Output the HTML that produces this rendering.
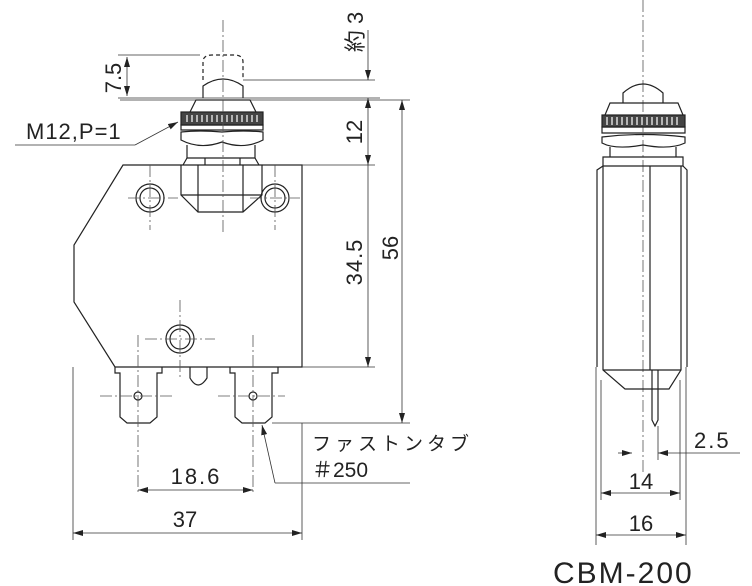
<!DOCTYPE html>
<html><head><meta charset="utf-8"><style>
html,body{margin:0;padding:0;background:#fff;}
svg{display:block;}
text{font-family:"Liberation Sans","Noto Sans CJK JP",sans-serif;fill:#222;}
</style></head><body>
<svg width="752" height="586" viewBox="0 0 752 586" xmlns="http://www.w3.org/2000/svg">
<defs>
<marker id="a" viewBox="0 0 10 6" refX="10" refY="3" markerWidth="10" markerHeight="6" orient="auto-start-reverse" markerUnits="userSpaceOnUse"><path d="M0,0 L10,3 L0,6 z" fill="#222"/></marker>
</defs>
<g stroke="#222" stroke-width="1.2" fill="none">
<path d="M203,80 L203,62 Q203,55 212,55 L234,55 Q243,55 243,62 L243,80" stroke-dasharray="4,3"/>
<path d="M203,98 L203,86 Q223,72 243,86 L243,98"/>
<path d="M190,112 L196,100 L250,100 L256,112"/>
<rect x="181" y="112" width="82" height="13" fill="#444"/>
<g stroke="#fff" stroke-width="1.2">
<path d="M187,115v7M192,115v7M197,115v7M202,115v7M207,115v7M212,115v7M217,115v7M222,115v7M227,115v7M232,115v7M237,115v7M242,115v7M247,115v7M252,115v7M257,115v7"/>
</g>
<path d="M181,125 L263,125 L263,130 L181,130 Z"/>
<path d="M181,132 Q200,130 222,132 Q244,130 263,132 L263,140 Q244,150 222,142 Q200,150 181,140 Z"/>
<path d="M187,145 L187,158 L255,158 L255,145"/>
<path d="M183,165 L187,158 M259,165 L255,158 M205,158 L205,165 M240,158 L240,165"/>
<path d="M123,165 L302,165 L302,367 L115,367 L74,302 L74,245 Z"/>
<path d="M181,165 L181,195 L198,212 L243,212 L262,195 L262,165"/>
<path d="M198,165 L198,212 M243,165 L243,212 M181,195 L262,195"/>
<circle cx="150" cy="198" r="14"/><circle cx="150" cy="198" r="10"/>
<circle cx="275" cy="198" r="14"/><circle cx="275" cy="198" r="10"/>
<circle cx="180" cy="339" r="14"/><circle cx="180" cy="339" r="10"/>
<path d="M115,367 L115,373 L120,373 L120,417 L127,423 L150,423 L157,417 L157,373 L162,373 L162,367"/>
<path d="M230,367 L230,373 L235,373 L235,417 L242,423 L265,423 L272,417 L272,373 L278,373 L278,367"/>
<circle cx="138" cy="396" r="4"/><circle cx="253" cy="396" r="4"/>
<path d="M190,367 L190,378 Q198,392 207,378 L207,367"/>
</g>
<g stroke="#555" stroke-width="0.8" fill="none" stroke-dasharray="12,3,2,3">
<path d="M223,20 L223,235"/>
<path d="M150,165 L150,230 M128,198 L178,198"/>
<path d="M275,165 L275,230 M250,198 L300,198"/>
<path d="M180,300 L180,380 M145,339 L215,339"/>
<path d="M138,335 L138,495 M100,396 L175,396"/>
<path d="M253,335 L253,495 M218,396 L285,396"/>
<path d="M643,0 L643,475"/>
</g>
<g stroke="#333" stroke-width="0.8" fill="none">
<path d="M118,55 L200,55 M118,98 L380,98 M243,80 L375,80 M263,165 L375,165 M120,100 L410,100 M302,367 L375,367 M272,423 L410,423"/>
<path d="M127,57 L127,96" marker-start="url(#a)" marker-end="url(#a)"/>
<path d="M368,30 L368,80" marker-end="url(#a)"/>
<path d="M368,98 L368,165" marker-start="url(#a)" marker-end="url(#a)"/>
<path d="M368,165 L368,367" marker-end="url(#a)"/>
<path d="M402,100 L402,423" marker-start="url(#a)" marker-end="url(#a)"/>
<path d="M15,145 L135,145"/>
<path d="M135,145 L178,122" marker-end="url(#a)"/>
<path d="M275,483 L410,483"/>
<path d="M275,483 L262,425" marker-end="url(#a)"/>
<path d="M138,490 L253,490" marker-start="url(#a)" marker-end="url(#a)"/>
<path d="M73,367 L73,540 M302,423 L302,540"/>
<path d="M73,533 L302,533" marker-start="url(#a)" marker-end="url(#a)"/>
</g>
<g font-size="22">
<text x="26" y="139" letter-spacing="1">M12,P=1</text>
<text transform="translate(121,78) rotate(-90)" text-anchor="middle">7.5</text>
<text transform="translate(363,32) rotate(-90)" text-anchor="middle">約 3</text>
<text transform="translate(362,132) rotate(-90)" text-anchor="middle">12</text>
<text transform="translate(362,262) rotate(-90)" text-anchor="middle" letter-spacing="1">34.5</text>
<text transform="translate(398,248) rotate(-90)" text-anchor="middle">56</text>
<text x="196" y="484" text-anchor="middle" letter-spacing="2">18.6</text>
<text x="185" y="527" text-anchor="middle">37</text>
<text x="312" y="450" font-size="19" letter-spacing="4">ファストンタブ</text>
<text x="312" y="477" font-size="21">＃250</text>
<text x="694" y="448" letter-spacing="2">2.5</text>
<text x="641" y="489" text-anchor="middle">14</text>
<text x="641" y="531" text-anchor="middle">16</text>
<text x="553" y="583" font-size="30" letter-spacing="2">CBM-200</text>
</g>
<g stroke="#222" stroke-width="1.2" fill="none">
<path d="M623,103 L623,93 Q643,75 663,93 L663,103"/>
<path d="M605,115 L610,103 L678,103 L683,115"/>
<rect x="602" y="115" width="83" height="12" fill="#444"/>
<g stroke="#fff"><path d="M607,117v8M612,117v8M617,117v8M622,117v8M627,117v8M632,117v8M637,117v8M642,117v8M647,117v8M652,117v8M657,117v8M662,117v8M667,117v8M672,117v8M677,117v8"/></g>
<path d="M602,127 L685,127 L685,133 L602,133 Z"/>
<path d="M602,137 Q643,132 685,137 L685,143 Q670,150 643,145 Q615,150 602,143 Z"/>
<path d="M610,147 L610,157 L676,157 L676,147 M603,157 L683,157 L683,166 L603,166 Z"/>
<path d="M603,166 L597,170 L597,367 M683,166 L687,170 L687,367"/>
<path d="M603,166 L603,370 L625,389 L669,389 L681,370 L681,166"/>
<path d="M650,166 L650,370"/>
<path d="M603,370 L681,370"/>
<path d="M652,370 L652,420 L655,426 L658,420 L658,370"/>
</g>
<g stroke="#333" stroke-width="0.8" fill="none">
<path d="M601,380 L601,500 M680,380 L680,500 M596,367 L596,545 M686,367 L686,545 M658,426 L658,460"/>
<path d="M618,453 L632,453" marker-end="url(#a)"/>
<path d="M740,453 L658,453" marker-end="url(#a)"/>
<path d="M601,493 L680,493" marker-start="url(#a)" marker-end="url(#a)"/>
<path d="M596,535 L686,535" marker-start="url(#a)" marker-end="url(#a)"/>
</g>
</svg>
</body></html>
